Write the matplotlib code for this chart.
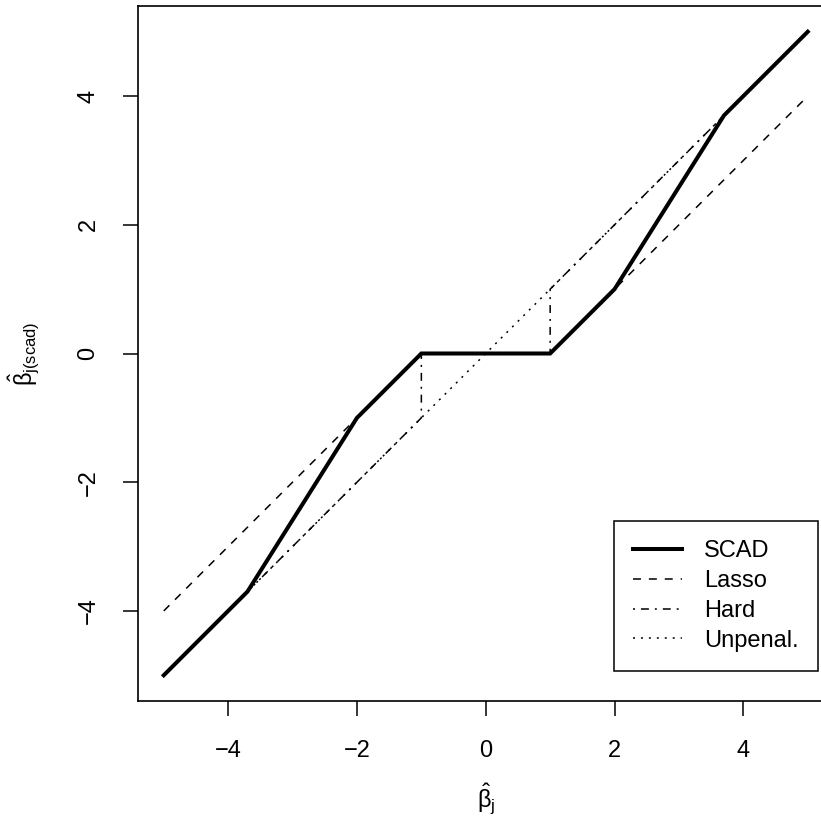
import matplotlib.pyplot as plt
import numpy as np

plt.rcParams['font.family'] = ['Liberation Sans', 'DejaVu Sans']
plt.rcParams['mathtext.fontset'] = 'custom'
plt.rcParams['mathtext.rm'] = 'Liberation Sans'
plt.rcParams['mathtext.it'] = 'Liberation Sans'
plt.rcParams['mathtext.bf'] = 'Liberation Sans:bold'

# Пороговые функции (lambda = 1, a = 3.7)
x_scad = [-5, -3.7, -2, -1, 1, 2, 3.7, 5]
y_scad = [-5, -3.7, -1, 0, 0, 1, 3.7, 5]
x_lasso = [-5, -1, 1, 5]
y_lasso = [-4, 0, 0, 4]
x_hard = [-5, -1, -1, 1, 1, 5]
y_hard = [-5, -1, 0, 0, 1, 5]
x_unpen = [-5, 5]
y_unpen = [-5, 5]
labels = ["SCAD", "Lasso", "Hard", "Unpenal."]
ticks = [-4, -2, 0, 2, 4]

fs = 17
fig = plt.figure(figsize=(8.21, 8.25), dpi=100)
ax = fig.add_axes([138 / 821, (825 - 701) / 825, 695.5 / 821, 695 / 825])

ax.plot(x_scad, y_scad, color='black', lw=2.9, label=labels[0], solid_joinstyle='miter')
ax.plot(x_lasso, y_lasso, color='black', lw=1.1, ls=(0, (5.2, 5.2)), label=labels[1])
ax.plot(x_hard, y_hard, color='black', lw=1.1, ls=(0, (1.3, 3.9, 5.2, 3.9)), label=labels[2])
ax.plot(x_unpen, y_unpen, color='black', lw=1.1, ls=(0, (1.3, 3.9)), label=labels[3])

ax.set_xlim(-5.4, 5.4)
ax.set_ylim(-5.4, 5.4)
ax.set_xticks(ticks)
ax.set_yticks(ticks)
ax.tick_params(length=10.8, width=1.1, pad=17, labelsize=fs, direction='out')
plt.setp(ax.get_yticklabels(), rotation=90, va='center')
for s in ax.spines.values():
    s.set_linewidth(1.2)

ax.set_xlabel(r'$\hat{\beta}_j$', fontsize=fs, labelpad=14)
ax.set_ylabel(r'$\hat{\beta}_{j(scad)}$', fontsize=fs, labelpad=26)

leg = ax.legend(loc='upper right', bbox_to_anchor=(0.9777, 0.259), bbox_transform=ax.transAxes,
                borderaxespad=0, fontsize=fs, frameon=True, fancybox=False, framealpha=1,
                edgecolor='black', handlelength=2.08, handletextpad=0.93, labelspacing=0.33,
                borderpad=0.82)
leg.get_frame().set_linewidth(1.1)

plt.savefig('out.png', dpi=100)
